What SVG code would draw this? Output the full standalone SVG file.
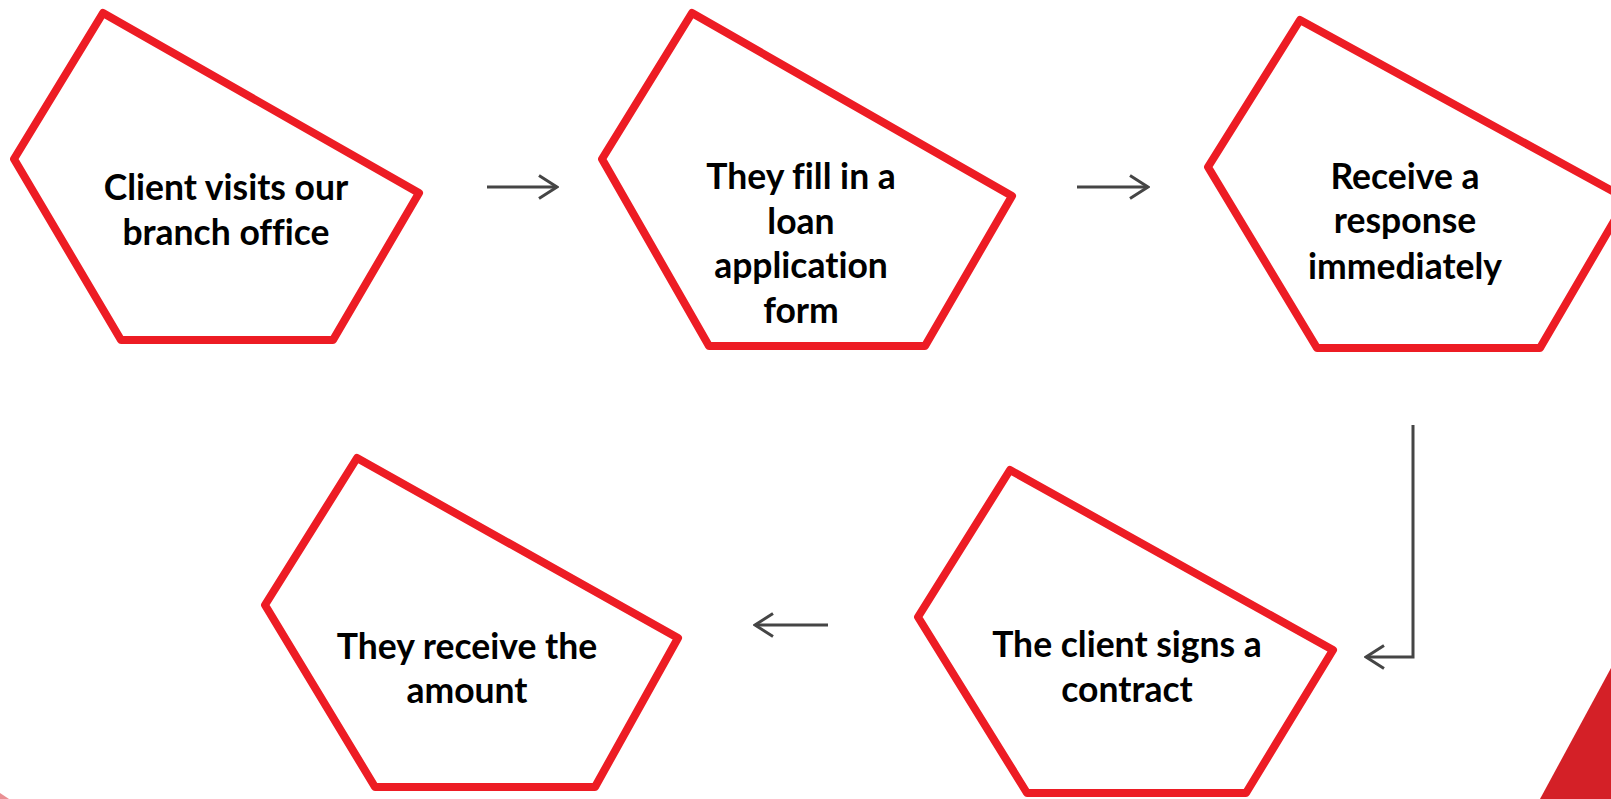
<svg xmlns="http://www.w3.org/2000/svg" width="1611" height="799" viewBox="0 0 1611 799">
<style>
.pent{fill:#ffffff;stroke:#ED1C24;stroke-width:8;stroke-linejoin:round}
.lbl{font-family:Lato,"Open Sans","Noto Sans",sans-serif;font-weight:700;font-size:35.5px;fill:#000000;text-anchor:middle;font-variant-ligatures:none}
.con{fill:none;stroke:#454545;stroke-width:3}
</style>
<defs>
<marker id="chev" viewBox="0 0 22 28" refX="20" refY="14" markerWidth="22" markerHeight="28" markerUnits="userSpaceOnUse" orient="auto">
<path d="M2,2.5 L20,14 L2,25.5" fill="none" stroke="#454545" stroke-width="3"/>
</marker>
</defs>
<rect width="1611" height="799" fill="#ffffff"/>
<polygon points="1611,668 1540,799 1611,799" fill="#D42027"/>
<polygon points="0,793 9,799 0,799" fill="#D42027" opacity="0.5"/>
<g id="node1">
<polygon class="pent" points="103,13 419,193 333,340 121,340 14,159"/>
<text class="lbl"><tspan x="226" y="200">Client visits our</tspan><tspan x="226" y="245">branch office</tspan></text>
</g>
<g id="node2">
<polygon class="pent" points="692,13 1012,196 925,346 709,346 602,159"/>
<text class="lbl"><tspan x="801" y="189">They fill in a</tspan><tspan x="801" y="234">loan</tspan><tspan x="801" y="278">application</tspan><tspan x="801" y="323">form</tspan></text>
</g>
<g id="node3">
<polygon class="pent" points="1300,20 1627,199 1540,348 1317,348 1208,167"/>
<text class="lbl"><tspan x="1405" y="189">Receive a</tspan><tspan x="1405" y="233">response</tspan><tspan x="1405" y="279">immediately</tspan></text>
</g>
<g id="node4">
<polygon class="pent" points="357,458 678,638 595,787 375,787 265,605"/>
<text class="lbl"><tspan x="467" y="659">They receive the</tspan><tspan x="467" y="703">amount</tspan></text>
</g>
<g id="node5">
<polygon class="pent" points="1010,470 1333,650 1246,793 1027,793 918,617"/>
<text class="lbl"><tspan x="1127" y="657">The client signs a</tspan><tspan x="1127" y="702">contract</tspan></text>
</g>
<g id="connectors">
<path class="con" d="M487,187 L557,187" marker-end="url(#chev)"/>
<path class="con" d="M1077,187 L1148,187" marker-end="url(#chev)"/>
<path class="con" d="M1413,425 L1413,657 L1366,657" marker-end="url(#chev)"/>
<path class="con" d="M828,625 L755,625" marker-end="url(#chev)"/>
</g>
</svg>
